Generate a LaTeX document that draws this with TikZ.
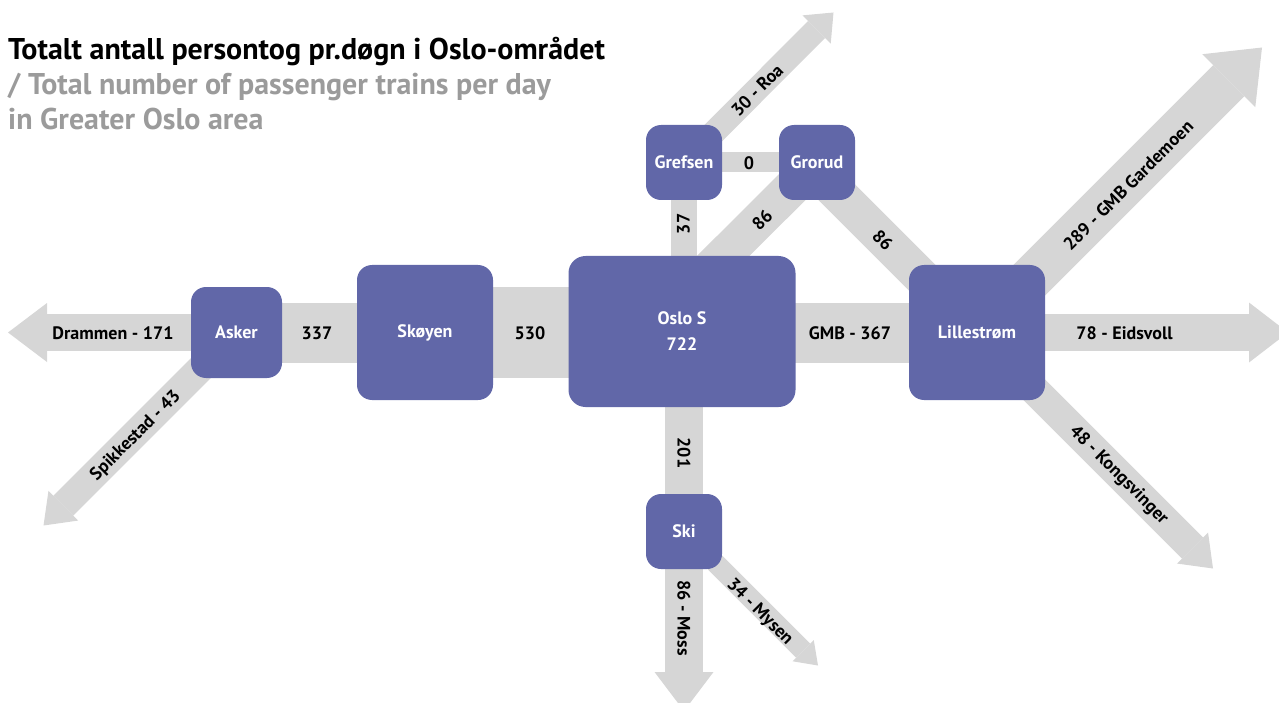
\documentclass[tikz,border=0pt]{standalone}
\usepackage{fontspec}
\setmainfont{PT Sans}
\usetikzlibrary{arrows.meta,backgrounds}

\definecolor{stationblue}{RGB}{97,103,168}
\definecolor{trackgrey}{RGB}{214,214,214}
\definecolor{titlegrey}{RGB}{155,155,155}

\tikzset{
  station/.style={fill=stationblue, rounded corners=15pt, text=white, align=center,
    font=\bfseries\fontsize{18}{26}\selectfont, inner sep=0pt},
  track/.style={draw=trackgrey, line width=#1},
  trackhead/.style 2 args={-{Triangle[width=#1,length=#2,line width=0pt]}},
  count/.style={font=\bfseries\fontsize{18}{22}\selectfont, inner sep=0pt,
    text height=13pt, text depth=0pt},
  headline/.style={anchor=base west, inner sep=0pt, font=\bfseries\fontsize{30}{35}\selectfont},
}

\begin{document}
\begin{tikzpicture}[x=1pt,y=1pt,yscale=-1,xscale=1]
\path[use as bounding box] (0,0) rectangle (1279,703);

% Text Node
\node[headline] (title) at (8,60) {Totalt antall persontog pr.døgn i Oslo-området};
% Text Node
\node[headline, text=titlegrey] (subtitle) at (8,95) {/ Total number of passenger trains per day};
% Text Node
\node[headline, text=titlegrey] (subtitle2) at (8,130) {in Greater Oslo area};

%Rounded Rect: stations
\node[station, minimum width=91pt, minimum height=91pt] (asker) at (236.5,332.5) {Asker};
\node[station, minimum width=136pt, minimum height=135pt] (skoyen) at (425,332.5) {Skøyen};
\node[station, rounded corners=17pt, minimum width=227pt, minimum height=151pt] (oslo) at (682,331.5) {Oslo S\\722};
\node[station, minimum width=136pt, minimum height=135pt] (lillestrom) at (977,332.5) {Lillestrøm};
\node[station, minimum width=76pt, minimum height=75pt] (grefsen) at (684,162.5) {Grefsen};
\node[station, minimum width=76pt, minimum height=75pt] (grorud) at (817,162.5) {Grorud};
\node[station, minimum width=76pt, minimum height=75pt] (ski) at (684,531.5) {Ski};

% free ends
\coordinate (drammen) at (8,332.5);
\coordinate (spikkestad) at (43.5,525.5);
\coordinate (eidsvoll) at (1288,332.5);
\coordinate (roa) at (833.5,12.5);
\coordinate (gardermoen) at (1262,47.5);
\coordinate (kongsvinger) at (1213,568.5);
\coordinate (moss) at (684,711);
\coordinate (mysen) at (818,665.5);
\coordinate (osloN) at (691,288);
\coordinate (grorudS) at (814.5,170);

%Straight Lines: tracks
\begin{scope}[on background layer]
\draw[track=37pt, trackhead={59pt}{39pt}] (asker.center) -- (drammen);
\draw[track=28pt, trackhead={42pt}{28pt}] (asker.center) -- (spikkestad);
\draw[track=60pt] (asker.center) -- (skoyen.center);
\draw[track=91pt] (skoyen.center) -- (skoyen.center -| oslo.center);
\draw[track=60pt] (oslo.center |- lillestrom.center) -- (lillestrom.center);
\draw[track=37pt, trackhead={60pt}{39pt}] (lillestrom.center) -- (eidsvoll);
\draw[track=44pt, trackhead={75pt}{47pt}] (lillestrom.center) -- (gardermoen);
\draw[track=30pt, trackhead={44pt}{29pt}] (lillestrom.center) -- (kongsvinger);
\draw[track=37pt] (lillestrom.center) -- (grorudS);
\draw[track=37pt] (grorud.center) -- (osloN);
\draw[track=20pt] (grefsen.center) -- (grorud.center);
\draw[track=26pt] (grefsen.center) -- (grefsen.center |- oslo.center);
\draw[track=24pt, trackhead={40pt}{24pt}] (grefsen.center) -- (roa);
\draw[track=38pt] (ski.center |- oslo.center) -- (ski.center);
\draw[track=38pt, trackhead={59pt}{39pt}] (ski.center) -- (moss);
\draw[track=20pt, trackhead={30pt}{21pt}] (ski.center) -- (mysen);
\end{scope}

% Text Node
\node[count] (n-drammen) at (113,333) {Drammen - 171};
% Text Node
\node[count, rotate=45] (n-spikkestad) at (134.5,434.5) {Spikkestad - 43};
% Text Node
\node[count] (n-asker) at (317,333) {337};
% Text Node
\node[count] (n-skoyen) at (530,333) {530};
% Text Node
\node[count] (n-gmb) at (850,333) {GMB - 367};
% Text Node
\node[count] (n-eidsvoll) at (1124.5,333) {78 - Eidsvoll};
% Text Node
\node[count, rotate=45] (n-gardermoen) at (1128,185) {289 - GMB Gardemoen};
% Text Node
\node[count, rotate=-45] (n-kongsvinger) at (1120,474) {48 - Kongsvinger};
% Text Node
\node[count] (n-grefsen) at (749,163) {0};
% Text Node
\node[count, rotate=90] (n-grefsenS) at (683,224) {37};
% Text Node
\node[count, rotate=45] (n-grorudS) at (762,220) {86};
% Text Node
\node[count, rotate=-45] (n-grorudE) at (883,240) {86};
% Text Node
\node[count, rotate=45] (n-roa) at (757,90) {30 - Roa};
% Text Node
\node[count, rotate=-90] (n-ski) at (684,453) {201};
% Text Node
\node[count, rotate=-90] (n-moss) at (684,618) {86 - Moss};
% Text Node
\node[count, rotate=-45] (n-mysen) at (761,611) {34 - Mysen};

\end{tikzpicture}
\end{document}
